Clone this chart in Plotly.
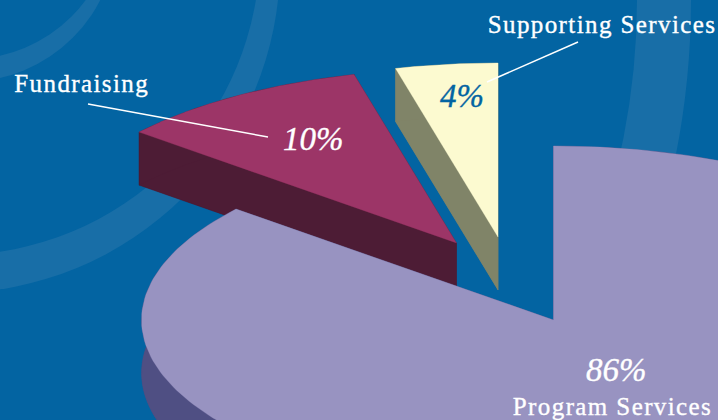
import numpy as np
import plotly.graph_objects as go

# Expense shares, in percent
categories = ["Program Services", "Fundraising", "Supporting Services"]
shares = [86, 10, 4]
share_labels = ["86%", "10%", "4%"]

W, H = 718, 420
BG = "#0364a2"
RING = "#186ea7"

# Projection of the tilted pie: ellipse radii and extrusion depth, in pixels
CX, CY = 553.5, 320.0
RX, RY = 412.0, 174.0
DEPTH = 53.0
START_DEG = 90.0

# Offset of each exploded slice from the pie centre, and slice colours
offsets = [(0, 0), (-97, -77), (-55.5, -83)]
top_colors = ["#9893c1", "#9c3567", "#fcfad0"]
side_colors = ["#4f4f83", "#4d1c35", "#808468"]
pct_colors = ["#ffffff", "#ffffff", "#0364a2"]

# Concentric decoration behind the pie: (centre x, centre y, radius)
rings = [
    ((-110, 0, 801), (-73, 0, 710)),
    ((-49, -36, 329), (-45, -50, 305)),
    ((-34, -69, 151), (-31, -86, 145)),
]


def circle(c, color):
    x, y, r = c
    return dict(type="circle", xref="x", yref="y", layer="below", x0=x - r, x1=x + r,
                y0=y - r, y1=y + r, fillcolor=color, line_width=0)


def arc(cx, cy, a0, a1):
    t = np.radians(np.linspace(a0, a1, 240))
    return cx + RX * np.cos(t), cy - RY * np.sin(t)


def slices():
    # Angles run counter-clockwise from twelve o'clock, smallest slice first
    a = START_DEG
    out = {}
    for i in reversed(range(len(shares))):
        span = shares[i] * 3.6
        out[i] = (a, a + span)
        a += span
    return out


fig = go.Figure()
spans = slices()


def poly(x, y, color):
    fig.add_trace(go.Scatter(x=x, y=y, mode="lines", fill="toself", fillcolor=color,
                             line=dict(color=color, width=0.3), hoverinfo="skip",
                             showlegend=False))


# Back slices first so that the big slice overlaps them
for i in [2, 1, 0]:
    dx, dy = offsets[i]
    cx, cy = CX + dx, CY + dy
    a0, a1 = spans[i]
    ax, ay = arc(cx, cy, a0, a1)
    px = np.r_[cx, ax, cx]
    py = np.r_[cy, ay, cy]
    # extruded body: bottom face, the two cut faces, the rim
    poly(px, py + DEPTH, side_colors[i])
    for ex, ey in ((ax[0], ay[0]), (ax[-1], ay[-1])):
        poly([cx, ex, ex, cx, cx], [cy, ey, ey + DEPTH, cy + DEPTH, cy], side_colors[i])
    poly(np.r_[ax, ax[::-1], ax[0]], np.r_[ay, ay[::-1] + DEPTH, ay[0]], side_colors[i])
    poly(px, py, top_colors[i])

# Leader lines
fig.add_trace(go.Scatter(x=[88, 268], y=[104, 137], mode="lines",
                         line=dict(color="#ffffff", width=1.5), hoverinfo="skip", showlegend=False))
fig.add_trace(go.Scatter(x=[578, 487], y=[42, 82], mode="lines",
                         line=dict(color="#ffffff", width=1.5), hoverinfo="skip", showlegend=False))

SERIF = "Liberation Serif"


def note(text, x, y, size, color, italic=False):
    fig.add_annotation(x=x, y=y, xref="x", yref="y", text=text, showarrow=False,
                       xanchor="center", yanchor="middle",
                       font=dict(family=SERIF, size=size, color=color,
                                 style="italic" if italic else "normal"))


note(categories[1], 82, 83, 25, "#ffffff")
note(categories[2], 602, 24, 25, "#ffffff")
note(categories[0], 612, 406, 25, "#ffffff")
note(share_labels[1], 313, 139, 33, pct_colors[1], italic=True)
note(share_labels[2], 462, 96, 33, pct_colors[2], italic=True)
note(share_labels[0], 616, 370, 33, pct_colors[0], italic=True)

shapes = []
for outer, inner in rings:
    shapes.append(circle(outer, RING))
    shapes.append(circle(inner, BG))

fig.update_layout(
    width=W, height=H, margin=dict(l=0, r=0, t=0, b=0), autosize=False,
    paper_bgcolor=BG, plot_bgcolor=BG, showlegend=False, shapes=shapes,
    xaxis=dict(range=[0, W], visible=False, fixedrange=True),
    yaxis=dict(range=[H, 0], visible=False, fixedrange=True),
)

# Tracked, slightly heavier lettering for the category names
fig.write_html("out.html", config={"displayModeBar": False},
               post_script="document.querySelectorAll('.annotation-text').forEach(function(t){"
                           "t.style.stroke=t.style.fill;t.style.strokeWidth='0.35px';"
                           "if(t.textContent.indexOf('%')<0){t.style.letterSpacing='1.4px';}});")
